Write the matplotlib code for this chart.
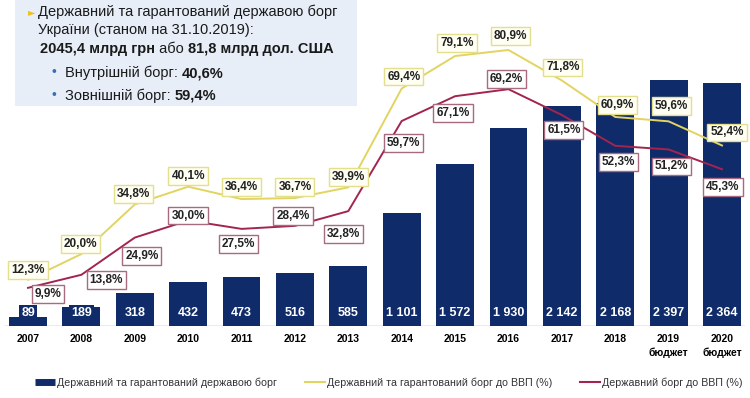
import matplotlib.pyplot as plt
from matplotlib.lines import Line2D
from matplotlib.patches import Rectangle
from matplotlib.text import Annotation

plt.rcParams["font.family"] = ["Liberation Sans", "DejaVu Sans"]

# --- data -------------------------------------------------------------
years = ["2007", "2008", "2009", "2010", "2011", "2012", "2013",
         "2014", "2015", "2016", "2017", "2018", "2019\nбюджет", "2020\nбюджет"]
debt = [89, 189, 318, 432, 473, 516, 585, 1101, 1572, 1930, 2142, 2168, 2397, 2364]
debt_gdp_total = [12.3, 20.0, 34.8, 40.1, 36.4, 36.7, 39.9, 69.4, 79.1, 80.9, 71.8, 60.9, 59.6, 52.4]
debt_gdp_state = [9.9, 13.8, 24.9, 30.0, 27.5, 28.4, 32.8, 59.7, 67.1, 69.2, 61.5, 52.3, 51.2, 45.3]

# label offsets in pixels (dx, dy) for the percentage boxes
off_total = [(0, 10), (-1, 10), (-1, 10), (0, 11), (0, 12), (0, 11), (0, 10),
             (2, 12), (2, 13), (2, 14), (1, 13), (2, 12), (3, 15), (5, 13)]
off_state = [(20, -6), (25, -5), (7, -18), (0, 5), (-3, -15), (-2, 10), (-5, -23),
             (2, -22), (-2, -17), (-2, 10), (2, -15), (3, -16), (3, -17), (1, -18)]

NAVY = "#102b69"
YELLOW = "#e2d460"
RED = "#a3244f"
TXT = "#1a1a1a"

fig = plt.figure(figsize=(7.5, 3.98), dpi=100)
ax = fig.add_axes([5 / 750, 72 / 398, 740 / 750, 306 / 398])
x = list(range(len(years)))

# bars
ax.bar(x, debt, width=0.71, color=NAVY, zorder=2)
for xi, v in zip(x, debt):
    s = f"{v:,}".replace(",", " ")
    ax.annotate(s, (xi, 0), xytext=(0, 13), textcoords="offset pixels",
                ha="center", va="center", color="white", fontsize=9, fontweight="bold",
                bbox=dict(boxstyle="square,pad=0.2", fc=NAVY, ec="none"), zorder=3)
ax.axhline(0, color="#9a9a9a", lw=1.0, zorder=1)
ax.set_xlim(-0.431, 13.431)
ax.set_ylim(0, 2977)
ax.set_xticks(x)
ax.set_xticklabels(years, fontsize=7.5, fontweight="bold", linespacing=1.35)
ax.tick_params(axis="x", length=0, pad=6)
ax.set_yticks([])
for sp in ax.spines.values():
    sp.set_visible(False)

# percentage lines
ax2 = ax.twinx()
ax2.plot(x, debt_gdp_total, color=YELLOW, lw=1.4, zorder=4)
ax2.plot(x, debt_gdp_state, color=RED, lw=1.4, zorder=4)
ax2.set_ylim(-1.49, 89.85)
ax2.set_xlim(-0.431, 13.431)
ax2.set_yticks([])
for sp in ax2.spines.values():
    sp.set_visible(False)

for xi, v, (dx, dy) in zip(x, debt_gdp_total, off_total):
    ax2.annotate(f"{v:.1f}%".replace(".", ","), (xi, v), xytext=(dx, dy),
                 textcoords="offset pixels", ha="center", va="center",
                 fontsize=8.5, fontweight="bold", color="#222222",
                 bbox=dict(boxstyle="square,pad=0.25", fc="#fffff4", ec="#e4df8c", lw=1.0),
                 zorder=6)
for xi, v, (dx, dy) in zip(x, debt_gdp_state, off_state):
    ax2.annotate(f"{v:.1f}%".replace(".", ","), (xi, v), xytext=(dx, dy),
                 textcoords="offset pixels", ha="center", va="center",
                 fontsize=8.5, fontweight="bold", color="#222222",
                 bbox=dict(boxstyle="square,pad=0.25", fc="white", ec="#a86a80", lw=1.0),
                 zorder=6)

# info box top-left
fig.patches.append(Rectangle((15 / 750, 1 - 106 / 398), 342 / 750, 106 / 398,
                             transform=fig.transFigure, fc="#e7eef8", ec="none", zorder=5))
fig.text(28 / 750, 1 - 12 / 398, "►", color="#f0c020", fontsize=7, va="center",
         family=["DejaVu Sans"], zorder=6)
fig.text(38 / 750, 1 - 12 / 398, "Державний та гарантований державою борг",
         fontsize=10.5, va="center", color=TXT, zorder=6)
fig.text(38 / 750, 1 - 30 / 398, "України (станом на 31.10.2019):",
         fontsize=10.5, va="center", color=TXT, zorder=6)


def rich(x0, y0, parts):
    # chain text pieces so bold and normal runs sit on one line
    prev = fig.text(x0, y0, parts[0][0], fontsize=10.5, va="bottom", color=TXT,
                    fontweight=parts[0][1], zorder=6)
    for s, w in parts[1:]:
        a = Annotation(s, xy=(1, 0), xycoords=prev, va="bottom", ha="left",
                       fontsize=10.5, fontweight=w, color=TXT, zorder=6)
        fig.add_artist(a)
        prev = a


rich(40 / 750, 1 - 56 / 398, [("2045,4 млрд грн", "bold"), ("\u00a0або\u00a0", "normal"),
                              ("81,8 млрд дол. США", "bold")])
fig.text(52 / 750, 1 - 72 / 398, "•", color="#3a6db5", fontsize=10, va="center", zorder=6)
rich(65 / 750, 1 - 80 / 398, [("Внутрішній борг:\u00a0", "normal"), ("40,6%", "bold")])
fig.text(52 / 750, 1 - 95 / 398, "•", color="#3a6db5", fontsize=10, va="center", zorder=6)
rich(65 / 750, 1 - 103 / 398, [("Зовнішній борг:\u00a0", "normal"), ("59,4%", "bold")])

# legend
handles = [Line2D([], [], color=NAVY, lw=5, solid_capstyle="butt"),
           Line2D([], [], color=YELLOW, lw=1.5),
           Line2D([], [], color=RED, lw=1.5)]
labels = ["Державний та гарантований державою борг",
          "Державний та гарантований борг до ВВП (%)",
          "Державний борг до ВВП (%)"]
fig.legend(handles, labels, loc="center", bbox_to_anchor=(0.518, 15 / 398), ncol=3,
           frameon=False, fontsize=7.7, handlelength=1.9, handletextpad=0.15,
           columnspacing=2.6, labelcolor="#333333")

fig.savefig("out.png", dpi=100)
